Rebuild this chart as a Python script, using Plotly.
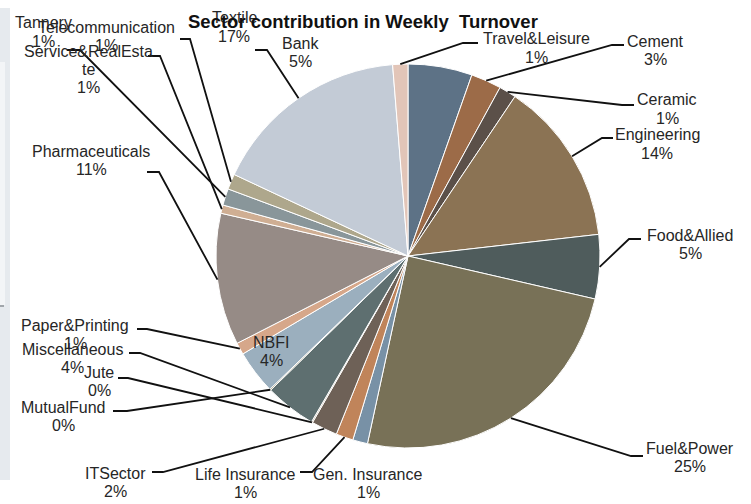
import math
import plotly.graph_objects as go

# ---- data ----
sectors = ["Bank", "Cement", "Ceramic", "Engineering", "Food&Allied", "Fuel&Power",
           "Gen. Insurance", "Life Insurance", "ITSector", "Jute", "Miscellaneous",
           "MutualFund", "NBFI", "Paper&Printing", "Pharmaceuticals",
           "Service&RealEstate", "Tannery", "Telecommunication", "Textile",
           "Travel&Leisure"]
turnover_share = [5.4, 2.56, 1.45, 13.8, 5.4, 24.8,
                  1.25, 1.45, 2.2, 0.1, 4.3,
                  0.1, 3.7, 1.0, 11.1,
                  0.7, 1.4, 1.3, 16.75,
                  1.28]
colors = ["#5D7286", "#9C6B48", "#5B5049", "#8B7354", "#4F5C5C", "#787157",
          "#7891A6", "#C0845A", "#6E6157", "#A6906E", "#5E6F70",
          "#8C8664", "#9BAFBE", "#D6A78A", "#968B86",
          "#CFAE93", "#89969A", "#AEA78C", "#C3CBD6",
          "#E2C5B8"]
title_text = "Sector contribution in Weekly  Turnover"

# ---- layout constants (pixels) ----
W, H = 751, 504
CX, CY, R = 408, 256, 192
LINE_GAP = 18.5

def px(x):
    return x / W

def py(y):
    return 1 - y / H

# first text line centre (x, y) and leader line start / elbow (None = no line)
label_pos = {
    "Bank": (300, 43, None),
    "Cement": (655, 41, ((624, 45), (612, 45))),
    "Ceramic": (667, 100, ((634, 105), (622, 105))),
    "Engineering": (657, 135, ((613, 138), (602, 138))),
    "Food&Allied": (690, 235, ((641, 239), (629, 239))),
    "Fuel&Power": (690, 448, ((643, 456), (631, 456))),
    "Gen. Insurance": (368, 474, None),
    "Life Insurance": (245, 474, ((300, 472), (312, 472))),
    "ITSector": (116, 473, ((152, 472), (163, 472))),
    "Jute": (99, 372, ((118, 378), (128, 378))),
    "Miscellaneous": (72, 349, ((129, 353), (140, 353))),
    "MutualFund": (63, 407, ((113, 411), (127, 411))),
    "NBFI": (271, 342, None),
    "Paper&Printing": (75, 325, ((137, 329), (147, 329))),
    "Pharmaceuticals": (91, 151, ((147, 172), (159, 172))),
    "Service&RealEstate": (88, 52, ((148, 56), (160, 56))),
    "Tannery": (43, 23, ((67, 50), (80, 50))),
    "Telecommunication": (106, 27, ((180, 39), (190, 39))),
    "Textile": (234, 18, ((255, 50), (267, 50))),
    "Travel&Leisure": (536, 39, ((478, 43), (463, 43))),
}
display_lines = {"Service&RealEstate": ["Service&RealEsta", "te"]}

fig = go.Figure()
fig.add_trace(go.Pie(
    labels=sectors, values=turnover_share,
    marker=dict(colors=colors, line=dict(color="white", width=1)),
    sort=False, direction="clockwise", rotation=0,
    textinfo="none", hoverinfo="label+percent",
    domain=dict(x=[px(CX - R), px(CX + R)], y=[py(CY + R), py(CY - R)]),
    showlegend=False,
))

label_font = dict(family="Liberation Sans, Arial", size=16, color="#262626")
total = sum(turnover_share)
annotations = []
shapes = []
cum = 0.0
for name, v in zip(sectors, turnover_share):
    mid = (cum + v / 2) / total * 2 * math.pi
    cum += v
    tx = CX + R * math.sin(mid)
    ty = CY - R * math.cos(mid)
    lx, ly, line = label_pos[name]
    pct = round(v / total * 100)
    lines = display_lines.get(name, [name]) + [f"{pct}%"]
    gap = 17.5 if len(lines) > 2 else LINE_GAP
    for i, t in enumerate(lines):
        annotations.append(dict(
            x=px(lx), y=py(ly + i * gap), xref="paper", yref="paper",
            text=t, showarrow=False, xanchor="center", yanchor="middle",
            font=label_font,
        ))
    if line is not None:
        (sx, sy), (ex, ey) = line
        shapes.append(dict(
            type="path", xref="paper", yref="paper",
            path=f"M {px(sx)},{py(sy)} L {px(ex)},{py(ey)} L {px(tx)},{py(ty)}",
            line=dict(color="#111111", width=1.8),
        ))

annotations.append(dict(
    x=px(363), y=py(22), xref="paper", yref="paper", text=f"<b>{title_text}</b>",
    showarrow=False, xanchor="center", yanchor="middle",
    font=dict(family="Liberation Sans, Arial", size=18.5, color="#111111"),
))

# page edge decoration
shapes = [
    dict(type="rect", xref="paper", yref="paper", x0=0, x1=px(10), y0=py(480), y1=py(8),
         fillcolor="#E6EAEE", line=dict(width=0), layer="below"),
    dict(type="rect", xref="paper", yref="paper", x0=0, x1=px(5), y0=py(305), y1=py(62),
         fillcolor="#F3F5F7", line=dict(width=0), layer="below"),
    dict(type="line", xref="paper", yref="paper", x0=0, x1=px(4), y0=py(306), y1=py(306),
         line=dict(color="#8A8F94", width=1.5), layer="below"),
] + shapes

fig.update_layout(
    width=W, height=H, margin=dict(l=0, r=0, t=0, b=0),
    paper_bgcolor="white", plot_bgcolor="white",
    annotations=annotations, shapes=shapes,
)
fig.write_html("out.html", config={"displayModeBar": False},
               post_script="document.body.style.margin='0';document.body.style.padding='0';")
